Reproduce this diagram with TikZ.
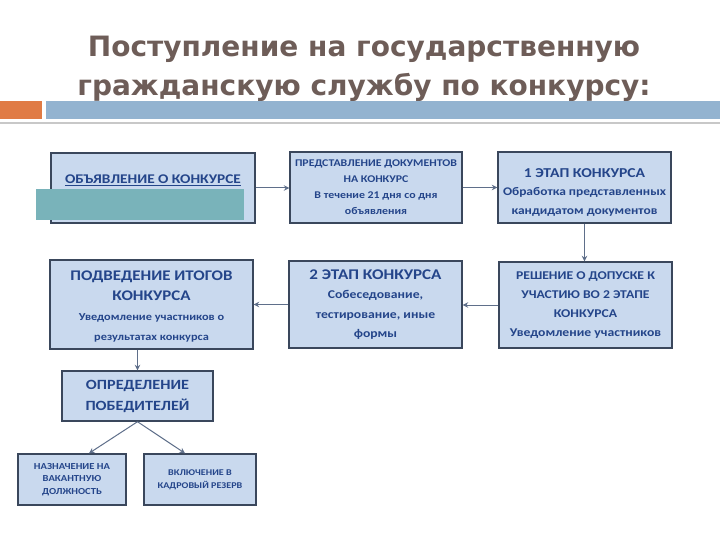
\documentclass[tikz,border=0pt]{standalone}
\usepackage{fontspec}
\setmainfont{Carlito}[FakeStretch=1.15]
\newfontfamily\titlefont{DejaVu Sans}
\usetikzlibrary{arrows.meta, positioning, calc}
\definecolor{ctitle}{HTML}{6E5D58}
\definecolor{corange}{HTML}{E07B45}
\definecolor{cbar}{HTML}{93B3D0}
\definecolor{crule}{HTML}{C8C8C8}
\definecolor{cfill}{HTML}{C9D9EE}
\definecolor{cedge}{HTML}{3A475C}
\definecolor{ctext}{HTML}{24458A}
\definecolor{carrow}{HTML}{5F6F8A}
\definecolor{cteal}{HTML}{79B3BA}
\tikzset{
  every picture/.style={line width=1pt},
  box/.style={draw=cedge, fill=cfill, line width=1.4pt, align=center, inner sep=0pt, text=ctext, font=\bfseries},
  arrow/.style={-{Stealth[length=5.5pt, width=5.5pt]}, draw=carrow, line width=1pt},
  title/.style={font=\titlefont\bfseries\fontsize{28}{39}\selectfont, text=ctitle, align=center},
}
\newcommand{\fs}[2]{\fontsize{#1}{#2}\selectfont}

\begin{document}
\begin{tikzpicture}[x=1pt, y=-1pt]
  \useasboundingbox[fill=white] (0,0) rectangle (720,540);
  % heading and the bars under it
  \node[title] (head) at (364,69) {Поступление на государственную\\гражданскую службу по конкурсу:};
  \fill[corange] (0,101) rectangle (42,119);
  \fill[cbar] (46,101) rectangle (720,119);
  \fill[crule] (0,122) rectangle (720,124);
  % first row
  \node[box, minimum width=204, minimum height=70, text height=9pt, text depth=18pt, font=\bfseries\fs{13.3}{16}] (ann) at (153,188) {\underline{ОБЪЯВЛЕНИЕ О КОНКУРСЕ}};
  \node[box, minimum width=172, minimum height=71, font=\bfseries\fs{10.3}{16}] (docs) at (376,187.5) {ПРЕДСТАВЛЕНИЕ ДОКУМЕНТОВ\\НА КОНКУРС\\В течение 21 дня со дня\\объявления};
  \node[box, minimum width=173, minimum height=71, text height=57pt, text depth=3pt, font=\bfseries\fs{11.7}{18.5}] (stage1) at (584.5,187.5) {{\fs{13.6}{18.5}1 ЭТАП КОНКУРСА}\\Обработка  представленных\\кандидатом  документов};
  % second row
  \node[box, minimum width=203, minimum height=89, text height=74pt, text depth=3pt, font=\bfseries\fs{14.7}{20}] (results) at (151.5,304.5) {ПОДВЕДЕНИЕ ИТОГОВ\\КОНКУРСА\\{\fs{10.7}{20}Уведомление участников  о}\\{\fs{10.7}{20}результатах  конкурса}};
  \node[box, minimum width=173, minimum height=87, font=\bfseries\fs{11.9}{19.5}] (stage2) at (375.5,304.5) {{\fs{14.8}{19.5}2 ЭТАП КОНКУРСА}\\Собеседование,\\тестирование,  иные\\формы};
  \node[box, minimum width=173, minimum height=86, font=\bfseries\fs{11.9}{19}] (admit) at (585.5,305) {РЕШЕНИЕ О ДОПУСКЕ К\\УЧАСТИЮ ВО 2 ЭТАПЕ\\КОНКУРСА\\Уведомление участников};
  % winners and the two outcomes
  \node[box, minimum width=151, minimum height=50, font=\bfseries\fs{14.1}{21}] (winners) at (137.5,396) {ОПРЕДЕЛЕНИЕ\\ПОБЕДИТЕЛЕЙ};
  \node[box, minimum width=108, minimum height=51, font=\bfseries\fs{9.2}{12.5}] (appoint) at (72,479.5) {НАЗНАЧЕНИЕ НА\\ВАКАНТНУЮ\\ДОЛЖНОСТЬ};
  \node[box, minimum width=112, minimum height=51, font=\bfseries\fs{8.8}{13}] (reserve) at (200,479.5) {ВКЛЮЧЕНИЕ В\\КАДРОВЫЙ РЕЗЕРВ};
  % the teal strip laid over the first box
  \fill[cteal] (36,189) rectangle (244,220);
  % connectors
  \draw[arrow] (ann.east) -- (ann.east -| docs.west);
  \draw[arrow] (docs.east) -- (docs.east -| stage1.west);
  \draw[arrow] (stage1.south) -- (stage1.south |- admit.north);
  \draw[arrow] (admit.west) -- (admit.west -| stage2.east);
  \draw[arrow] (stage2.west) -- (stage2.west -| results.east);
  \draw[arrow] (winners.north |- results.south) -- (winners.north);
  \draw[arrow] (winners.south) -- ($(appoint.north)+(17,0)$);
  \draw[arrow] (winners.south) -- ($(reserve.north)+(-15,0)$);
\end{tikzpicture}
\end{document}
